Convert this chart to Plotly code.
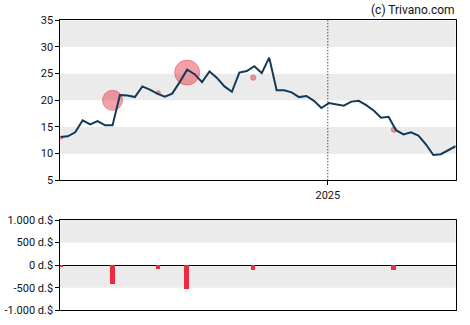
import plotly.graph_objects as go
import pandas as pd

# ---- data ----
start_date = "2024-04-25"
prices = [13.1, 13.25, 14.0, 16.25, 15.5, 16.1, 15.3, 15.3, 21.0, 20.9,
          20.6, 22.6, 22.0, 21.25, 20.7, 21.25, 23.4, 25.75, 24.9, 23.4,
          25.4, 24.2, 22.6, 21.6, 25.2, 25.5, 26.4, 25.1, 28.0, 21.9,
          21.9, 21.5, 20.6, 20.8, 19.9, 18.55, 19.5, 19.2, 19.0, 19.75,
          19.9, 19.1, 18.1, 16.75, 16.9, 14.4, 13.6, 14.0, 13.4, 11.75,
          9.75, 9.9, 10.6, 11.4]
dates = pd.date_range(start_date, periods=len(prices), freq="7D")

trade_dates = ["2024-04-26", "2024-06-13", "2024-07-26", "2024-08-22", "2024-10-23", "2025-03-04"]
trade_prices = [13.0, 20.0, 21.4, 25.2, 24.25, 14.5]
trade_values = [-50, -415, -75, -520, -100, -100]  # thousand $

top_ticks = [5, 10, 15, 20, 25, 30, 35]
bot_ticks = [-1000, -500, 0, 500, 1000]
bot_labels = ["-1.000 d.$", "-500 d.$", "0 d.$", "500 d.$", "1.000 d.$"]
x_tick = ["2025-01-01"]
x_label = ["2025"]

# ---- layout geometry ----
W, H = 470, 325
xd = [60.3 / W, 455.7 / W]
top_dom = [1 - 180.3 / H, 1 - 20.3 / H]
bot_dom = [1 - 310.3 / H, 1 - 220 / H]

fig = go.Figure()
fig.add_trace(go.Scatter(x=pd.to_datetime(trade_dates), y=trade_prices, mode="markers",
                         marker=dict(size=[abs(v) * 0.047 + 0.5 for v in trade_values],
                                     color="rgba(230,30,50,0.6)",
                                     line=dict(color="rgba(230,30,50,0.7)", width=1)),
                         xaxis="x", yaxis="y", cliponaxis=True))
fig.add_trace(go.Scatter(x=dates, y=prices, mode="lines",
                         line=dict(color="#123a56", width=2),
                         xaxis="x", yaxis="y", hoverinfo="skip"))
fig.add_trace(go.Bar(x=pd.to_datetime(trade_dates), y=trade_values,
                     marker=dict(color="#ee2a40", line=dict(width=0)),
                     width=[4.7 / 395.4 * 371 * 86400000] * len(trade_values),
                     xaxis="x2", yaxis="y2"))

shapes = []
for lo, hi in [(10, 15), (20, 25), (30, 35)]:
    shapes.append(dict(type="rect", xref="paper", yref="y", x0=xd[0], x1=xd[1], y0=lo, y1=hi,
                       fillcolor="#ebebeb", line=dict(width=0), layer="below"))
for lo, hi in [(-500, 0), (500, 1000)]:
    shapes.append(dict(type="rect", xref="paper", yref="y2", x0=xd[0], x1=xd[1], y0=lo, y1=hi,
                       fillcolor="#ebebeb", line=dict(width=0), layer="below"))
shapes.append(dict(type="line", xref="x", yref="y domain", x0=x_tick[0], x1=x_tick[0], y0=0, y1=1,
                   line=dict(color="black", width=1, dash="1px,2px")))

rng = [dates[0], dates[-1]]
axis_font = dict(family="Roboto, Liberation Sans, Arial", size=11, color="#111")

fig.update_layout(
    width=W, height=H, margin=dict(l=0, r=0, t=0, b=0, autoexpand=False),
    paper_bgcolor="white", plot_bgcolor="rgba(0,0,0,0)",
    showlegend=False, shapes=shapes, bargap=0,
    font=axis_font,
    xaxis=dict(domain=xd, anchor="y", range=rng, tickvals=x_tick, ticktext=x_label,
               showgrid=False, zeroline=False, showline=True, mirror=True, automargin=False,
               linecolor="black", linewidth=1, ticks="outside", ticklen=4,
               tickcolor="black", tickfont=axis_font),
    yaxis=dict(domain=top_dom, anchor="x", range=[5, 35], tickvals=top_ticks,
               showgrid=False, zeroline=False, showline=True, mirror=True, automargin=False,
               linecolor="black", linewidth=1, ticks="outside", ticklen=4,
               tickcolor="black", tickfont=axis_font),
    xaxis2=dict(domain=xd, anchor="y2", range=rng, showticklabels=False, automargin=False,
                showgrid=False, zeroline=False, showline=True, mirror=True,
                linecolor="black", linewidth=1, ticks=""),
    yaxis2=dict(domain=bot_dom, anchor="x2", range=[-1000, 1000], tickvals=bot_ticks,
                ticktext=bot_labels, showgrid=False, zeroline=True, zerolinecolor="black",
                zerolinewidth=1, showline=True, mirror=True, linecolor="black", linewidth=1,
                automargin=False,
                ticks="outside", ticklen=4, tickcolor="black", tickfont=axis_font),
    annotations=[dict(text="(c) Trivano.com", xref="paper", yref="paper",
                      x=457 / W, y=1 - 1 / H, xanchor="right", yanchor="top",
                      showarrow=False, font=dict(family="Roboto, Liberation Sans, Arial",
                                                 size=12, color="#111"))],
)

fig.write_html("out.html")
